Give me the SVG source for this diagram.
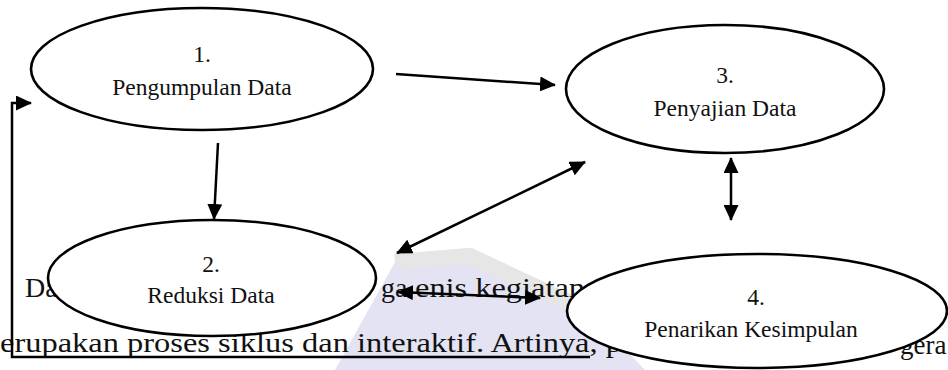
<svg xmlns="http://www.w3.org/2000/svg" width="948" height="370" viewBox="0 0 948 370">
<style>
.node ellipse{fill:#fff;stroke:#000;stroke-width:2.6}
.lbl{font-family:"Liberation Serif","Times New Roman",serif;font-size:23.5px;fill:#111;text-anchor:middle}
.bg{font-family:"Liberation Serif","Times New Roman",serif;font-size:28px;fill:#111}
.conn path{fill:none;stroke:#000;stroke-width:2.5}
</style>
<defs>
<marker id="ah" viewBox="0 0 16 15" refX="15" refY="7.5" markerWidth="16" markerHeight="15" markerUnits="userSpaceOnUse" orient="auto-start-reverse">
<path d="M0,0 L16,7.5 L0,15 z" fill="#000"/>
</marker>
</defs>
<rect width="948" height="370" fill="#fff"/>
<g id="watermark">
<polygon points="395,262 470,256 585,308 645,370 335,370" fill="#e3e3f3"/>
<polyline points="395,262 470,256 590,312" fill="none" stroke="#e6e6e6" stroke-width="16"/>
</g>
<g id="page-text">
<text class="bg" x="25" y="297">Da</text>
<text class="bg" x="381" y="297">ga</text>
<text class="bg" x="415" y="297" textLength="170" lengthAdjust="spacingAndGlyphs">enis kegiatan</text>
<text class="bg" x="0" y="352" textLength="622" lengthAdjust="spacingAndGlyphs">erupakan proses siklus dan interaktif. Artinya, p</text>
<text class="bg" x="900" y="354" style="font-size:27px">gera</text>
</g>
<g id="node1" class="node">
<ellipse cx="202" cy="69" rx="171" ry="61"/>
<text class="lbl" x="202" y="62">1.</text>
<text class="lbl" x="202" y="95">Pengumpulan Data</text>
</g>
<g id="node2" class="node">
<ellipse cx="212" cy="278" rx="164" ry="58"/>
<text class="lbl" x="211" y="272">2.</text>
<text class="lbl" x="211" y="303">Reduksi Data</text>
</g>
<g id="node3" class="node">
<ellipse cx="725" cy="89" rx="159" ry="64"/>
<text class="lbl" x="725" y="83">3.</text>
<text class="lbl" x="725" y="116">Penyajian Data</text>
</g>
<g id="node4" class="node">
<ellipse cx="757" cy="311" rx="190" ry="57"/>
<text class="lbl" x="756" y="305">4.</text>
<text class="lbl" x="751" y="337">Penarikan Kesimpulan</text>
</g>
<g id="connectors" class="conn">
<path d="M218,143 L214,219" marker-end="url(#ah)"/>
<path d="M396,74 L555,85" marker-end="url(#ah)"/>
<path d="M397,253 L585,162" marker-start="url(#ah)" marker-end="url(#ah)"/>
<path d="M731,158 L731,220" marker-start="url(#ah)" marker-end="url(#ah)"/>
<path d="M398,292 L540,298" marker-start="url(#ah)" marker-end="url(#ah)"/>
<path d="M590,357 L12,357 L12,103 L31,103" marker-end="url(#ah)"/>
</g>
</svg>
